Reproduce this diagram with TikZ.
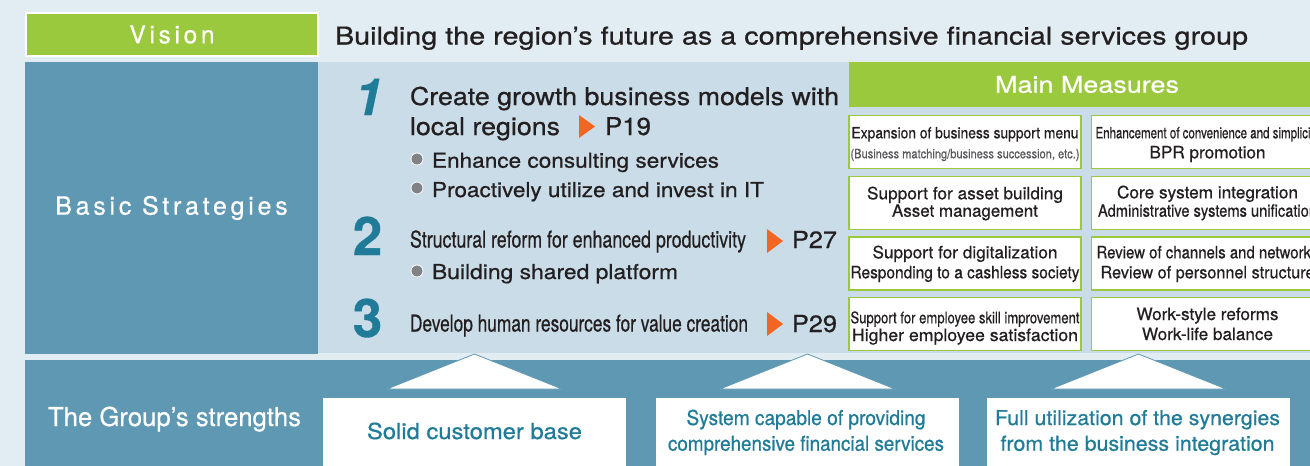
\documentclass[tikz,border=0pt]{standalone}
\usepackage{fontspec}
\usepackage{graphicx}
\setmainfont[FakeBold=0.6]{TeX Gyre Heros}
\newfontfamily\spacedfont[LetterSpace=15,FakeBold=0.6]{TeX Gyre Heros}

\definecolor{pagebg}{HTML}{E1ECF3}
\definecolor{panelbg}{HTML}{C9DCE7}
\definecolor{steelblue}{HTML}{5F98B2}
\definecolor{leafgreen}{HTML}{9BC93D}
\definecolor{tealtext}{HTML}{1F7B97}
\definecolor{arroworange}{HTML}{F26522}
\definecolor{inktext}{HTML}{231F20}
\definecolor{greytext}{HTML}{58595B}
\definecolor{dotgrey}{HTML}{808285}

\newcommand\fsz[1]{\fontsize{#1}{#1}\selectfont}
\newcommand\fitto[2]{\resizebox{#1pt}{\height}{#2}}

\tikzset{inner sep=0pt, outer sep=0pt}

\begin{document}
\begin{tikzpicture}[x=1pt,y=-1pt,
    txt/.style={anchor=base, text=inktext},
    stxt/.style={txt, anchor=base west},
    mbox/.style={draw=leafgreen, line width=1.5pt, fill=white, minimum width=232pt, minimum height=53pt},
    sbox/.style={fill=white, minimum width=303pt, minimum height=80pt, anchor=north west},
    sline/.style={txt, text=tealtext, font=\fsz{20.5}},
    pointer/.style={fill=arroworange},
    bullet/.style={circle, fill=dotgrey, draw=white, line width=0.8pt, minimum size=12pt},
    bignum/.style={anchor=base, text=tealtext, font=\fsz{53}\bfseries},
    uptri/.style={fill=white, draw=steelblue, line width=0.8pt}]
    \clip (0,0) rectangle (1310,466);
    \fill[pagebg] (0,0) rectangle (1310,466);

    % panels
    \node[fill=steelblue, minimum width=293pt, minimum height=292pt, anchor=north west,
        text=white, font={\spacedfont\fsz{25}}] (basic) at (25,62) {Basic Strategies};
    \node[fill=panelbg, minimum width=992pt, minimum height=291pt, anchor=north west] (stratpanel) at (318,62) {};
    \node[fill=steelblue, minimum width=1290pt, minimum height=110pt, anchor=north west] (band) at (25,360) {};

    % vision
    \node[fill=leafgreen, draw=white, line width=1.5pt, minimum width=292pt, minimum height=43pt,
        text=white, font={\spacedfont\fsz{24.5}}] (vision) at (172,34.5) {Vision};
    \node[stxt, font=\fsz{24.5}] (visiontext) at (335,44.5)
        {\fitto{913}{Building the region’s future as a comprehensive financial services group}};

    % strategies
    \node[bignum, font=\fsz{51}\bfseries\itshape] (num1) at (368.5,115) {1};
    \node[bignum] (num2) at (367.5,255) {2};
    \node[bignum] (num3) at (367.5,337) {3};

    \node[stxt, font=\fsz{24.5}] (s1a) at (410,105) {\fitto{429}{Create growth business models with}};
    \node[stxt, font=\fsz{24.5}] (s1b) at (410,135) {\fitto{150}{local regions}};
    \fill[pointer] (579,115) -- (595,126.5) -- (579,138) -- cycle;
    \node[stxt, font=\fsz{24.5}] (p19) at (605,135) {\fitto{46}{P19}};
    \node[bullet] (dot1) at (417,159) {};
    \node[stxt, font=\fsz{20.5}] (s1c) at (432,167.7) {\fitto{287}{Enhance consulting services}};
    \node[bullet] (dot2) at (417,188) {};
    \node[stxt, font=\fsz{20.5}] (s1d) at (432,197) {\fitto{332}{Proactively utilize and invest in IT}};

    \node[stxt, font=\fsz{23}] (s2a) at (410,247.5) {\fitto{336}{Structural reform for enhanced productivity}};
    \fill[pointer] (767,229) -- (783,241) -- (767,253) -- cycle;
    \node[stxt, font=\fsz{23.5}] (p27) at (792,248) {\fitto{45}{P27}};
    \node[bullet] (dot3) at (417,271) {};
    \node[stxt, font=\fsz{20.5}] (s2b) at (432,279) {\fitto{246}{Building shared platform}};

    \node[stxt, font=\fsz{23}] (s3a) at (410,331.5) {\fitto{338}{Develop human resources for value creation}};
    \fill[pointer] (767,312) -- (783,324) -- (767,336) -- cycle;
    \node[stxt, font=\fsz{23.5}] (p29) at (792,332) {\fitto{45}{P29}};

    % main measures
    \node[fill=leafgreen, minimum width=476pt, minimum height=45pt, anchor=north west,
        text=white, font=\fsz{23}] (measures) at (849,62) {\fitto{184}{Main Measures}};

    \node[mbox] (m11) at (965,142) {};
    \node[txt, font=\fsz{15.5}] (m11a) at (965,138.3) {\fitto{227}{Expansion of business support menu}};
    \node[txt, font=\fsz{13}, text=greytext] (m11b) at (965,158.3) {\fitto{229}{(Business matching/business succession, etc.)}};
    \node[mbox] (m12) at (1207.5,142) {};
    \node[txt, font=\fsz{15.5}] (m12a) at (1207.5,138.3) {\fitto{224}{Enhancement of convenience and simplicity}};
    \node[txt, font=\fsz{17}] (m12b) at (1207.5,158.3) {\fitto{116}{BPR promotion}};

    \node[mbox] (m21) at (965,203) {};
    \node[txt, font=\fsz{17}] (m21a) at (965,199.3) {\fitto{196}{Support for asset building}};
    \node[txt, font=\fsz{17}] (m21b) at (965,216.7) {\fitto{146}{Asset management}};
    \node[mbox] (m22) at (1207.5,203) {};
    \node[txt, font=\fsz{17}] (m22a) at (1207.5,198.3) {\fitto{181}{Core system integration}};
    \node[txt, font=\fsz{17}] (m22b) at (1207.5,216.7) {\fitto{219}{Administrative systems unification}};

    \node[mbox] (m31) at (965,263.5) {};
    \node[txt, font=\fsz{17}] (m31a) at (965,258.3) {\fitto{185}{Support for digitalization}};
    \node[txt, font=\fsz{17}] (m31b) at (965,278.3) {\fitto{229}{Responding to a cashless society}};
    \node[mbox] (m32) at (1207.5,263.5) {};
    \node[txt, font=\fsz{17}] (m32a) at (1207.5,258.3) {\fitto{222}{Review of channels and networks}};
    \node[txt, font=\fsz{17}] (m32b) at (1207.5,278.3) {\fitto{214}{Review of personnel structure}};

    \node[mbox] (m41) at (965,324) {};
    \node[txt, font=\fsz{16}] (m41a) at (965,323.3) {\fitto{229}{Support for employee skill improvement}};
    \node[txt, font=\fsz{17}] (m41b) at (965,341) {\fitto{226}{Higher employee satisfaction}};
    \node[mbox] (m42) at (1207.5,324) {};
    \node[txt, font=\fsz{17}] (m42a) at (1207.5,320) {\fitto{142}{Work-style reforms}};
    \node[txt, font=\fsz{17}] (m42b) at (1207.5,340) {\fitto{131}{Work-life balance}};

    % strengths
    \node[stxt, text=white, font=\fsz{26}] (strengths) at (48,426) {\fitto{253}{The Group’s strengths}};
    \node[sbox] (sb1) at (323,398) {};
    \node[sbox] (sb2) at (656,398) {};
    \node[sbox] (sb3) at (987,398) {};
    \node[sline, font=\fsz{22}] (sb1a) at (474.5,439) {\fitto{215}{Solid customer base}};
    \node[sline] (sb2a) at (806,425) {\fitto{239}{System capable of providing}};
    \node[sline] (sb2b) at (806,450.7) {\fitto{276}{comprehensive financial services}};
    \node[sline] (sb3a) at (1137.5,425) {\fitto{285}{Full utilization of the synergies}};
    \node[sline] (sb3b) at (1137.5,450.7) {\fitto{274}{from the business integration}};

    \foreach \b in {sb1,sb2,sb3}
        \draw[uptri] ([shift={(-87.5,-9)}]\b.north) -- ([shift={(0,-44)}]\b.north)
            -- ([shift={(87.5,-9)}]\b.north) -- cycle;
\end{tikzpicture}
\end{document}
